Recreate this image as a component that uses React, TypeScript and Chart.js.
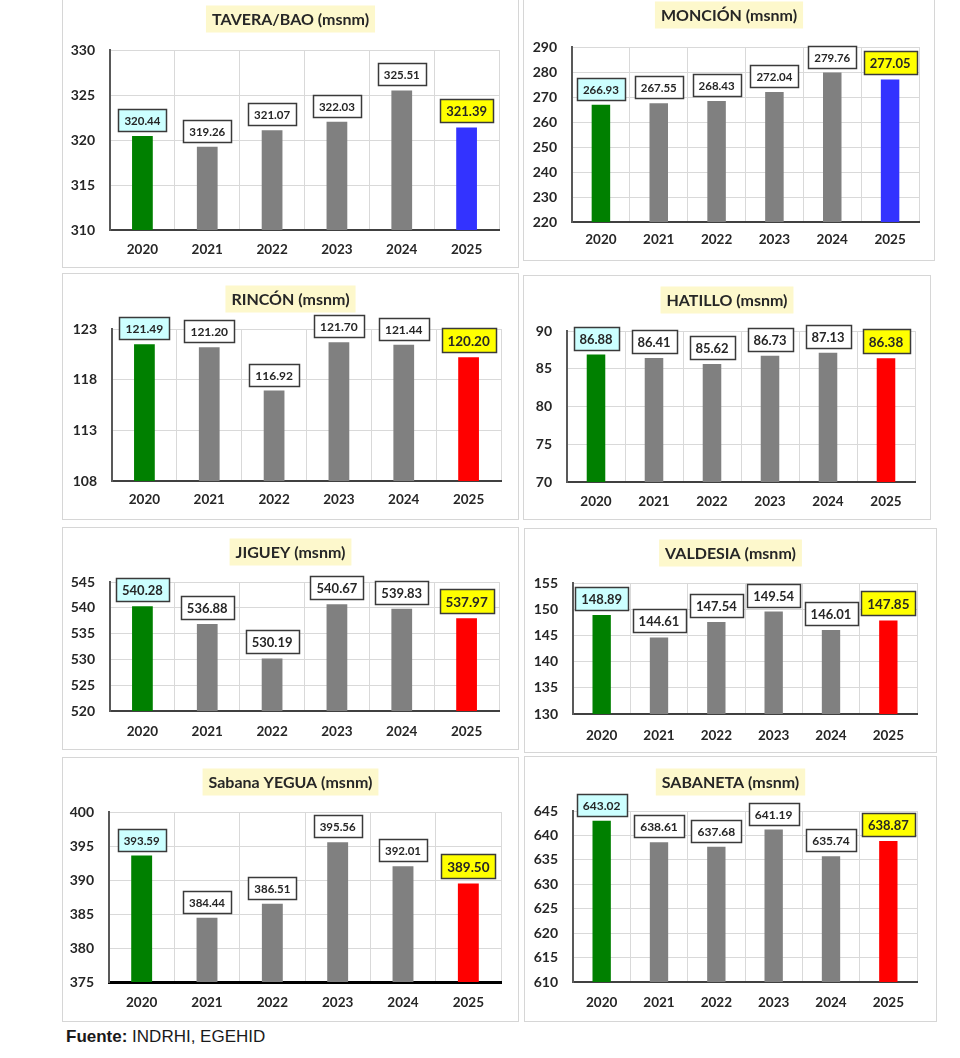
import React, { useEffect, useRef } from "react";
import { Chart, registerables } from "chart.js";

Chart.register(...registerables);

// ---------- DATA ----------
const years = ["2020", "2021", "2022", "2023", "2024", "2025"];

const taveraValues = [320.44, 319.26, 321.07, 322.03, 325.51, 321.39];
const moncionValues = [266.93, 267.55, 268.43, 272.04, 279.76, 277.05];
const rinconValues = [121.49, 121.2, 116.92, 121.7, 121.44, 120.2];
const hatilloValues = [86.88, 86.41, 85.62, 86.73, 87.13, 86.38];
const jigueyValues = [540.28, 536.88, 530.19, 540.67, 539.83, 537.97];
const valdesiaValues = [148.89, 144.61, 147.54, 149.54, 146.01, 147.85];
const sabanaYeguaValues = [393.59, 384.44, 386.51, 395.56, 392.01, 389.5];
const sabanetaValues = [643.02, 638.61, 637.68, 641.19, 635.74, 638.87];

// y-axis ticks: [min, max, step]
const taveraTicks = [310, 330, 5];
const moncionTicks = [220, 290, 10];
const rinconTicks = [108, 123, 5];
const hatilloTicks = [70, 90, 5];
const jigueyTicks = [520, 545, 5];
const valdesiaTicks = [130, 155, 5];
const sabanaYeguaTicks = [375, 400, 5];
const sabanetaTicks = [610, 645, 5];

const titles = [
  "TAVERA/BAO (msnm)",
  "MONCIÓN (msnm)",
  "RINCÓN (msnm)",
  "HATILLO (msnm)",
  "JIGUEY (msnm)",
  "VALDESIA (msnm)",
  "Sabana YEGUA (msnm)",
  "SABANETA (msnm)",
];

const footerBold = "Fuente:";
const footerText = " INDRHI, EGEHID";

// ---------- LAYOUT / STYLE ----------
type Layout = {
  x: number; y: number; w: number; h: number;
  plot: [number, number, number, number]; // left, top, right, bottom (page coords)
  titleY: number;
  lastColor: string;
  labelSize: number;
  lastSize: number;
  xPad: number;
  axisColor?: string;
  axisWidth?: number;
};

const layouts: Layout[] = [
  { x: 62, y: -1, w: 457, h: 269, plot: [110, 50, 499, 230], titleY: 19, lastColor: "#3333ff", labelSize: 11.5, lastSize: 13, xPad: 12 },
  { x: 523, y: -1, w: 412, h: 262, plot: [572, 47, 919, 222], titleY: 15, lastColor: "#3333ff", labelSize: 11.5, lastSize: 13, xPad: 10 },
  { x: 62, y: 273, w: 457, h: 247, plot: [112, 329, 501, 481], titleY: 299, lastColor: "#ff0000", labelSize: 12, lastSize: 13.5, xPad: 11 },
  { x: 523, y: 275, w: 408, h: 245, plot: [567, 331, 915, 482], titleY: 300, lastColor: "#ff0000", labelSize: 13, lastSize: 13.5, xPad: 12 },
  { x: 62, y: 527, w: 457, h: 223, plot: [110, 582, 499, 711], titleY: 552, lastColor: "#ff0000", labelSize: 13, lastSize: 13.5, xPad: 13 },
  { x: 524, y: 528, w: 413, h: 225, plot: [573, 583, 917, 714], titleY: 553, lastColor: "#ff0000", labelSize: 13, lastSize: 13.5, xPad: 14 },
  { x: 62, y: 757, w: 457, h: 265, plot: [109, 812, 501, 982], titleY: 782, lastColor: "#ff0000", labelSize: 11.5, lastSize: 13.5, xPad: 13, axisColor: "#000000", axisWidth: 3 },
  { x: 524, y: 756, w: 413, h: 266, plot: [573, 811, 917, 982], titleY: 782, lastColor: "#ff0000", labelSize: 12, lastSize: 13, xPad: 13 },
];

const seriesList = [
  taveraValues, moncionValues, rinconValues, hatilloValues,
  jigueyValues, valdesiaValues, sabanaYeguaValues, sabanetaValues,
];
const tickList = [
  taveraTicks, moncionTicks, rinconTicks, hatilloTicks,
  jigueyTicks, valdesiaTicks, sabanaYeguaTicks, sabanetaTicks,
];

const FONT = "Lato, 'Open Sans', sans-serif";
const TEXT = "#262626";

const valueBoxes = {
  id: "valueBoxes",
  afterDatasetsDraw(chart: any, _args: any, opts: any) {
    const ctx = chart.ctx;
    const meta = chart.getDatasetMeta(0);
    const data = chart.data.datasets[0].data as number[];
    const n = data.length;
    ctx.save();
    meta.data.forEach((bar: any, i: number) => {
      const txt = data[i].toFixed(2);
      const size = i === n - 1 ? opts.lastSize : opts.labelSize;
      ctx.font = `bold ${size}px ${FONT}`;
      const tw = ctx.measureText(txt).width;
      const bw = Math.round(tw + 12);
      const bh = Math.round(size + 10);
      const cx = bar.x;
      const bottom = bar.y - 5;
      const left = Math.round(cx - bw / 2) + 0.5;
      const top = Math.round(bottom - bh) + 0.5;
      ctx.fillStyle = i === 0 ? "#ccffff" : i === n - 1 ? "#ffff00" : "#ffffff";
      ctx.fillRect(left, top, bw, bh);
      ctx.strokeStyle = "#3a3a3a";
      ctx.lineWidth = 1.5;
      ctx.strokeRect(left, top, bw, bh);
      ctx.fillStyle = TEXT;
      ctx.textAlign = "center";
      ctx.textBaseline = "middle";
      ctx.fillText(txt, cx, top + bh / 2 + 1);
    });
    ctx.restore();
  },
};

const titleBox = {
  id: "titleBox",
  afterDraw(chart: any, _args: any, opts: any) {
    const ctx = chart.ctx;
    ctx.save();
    ctx.font = `bold 16px ${FONT}`;
    const tw = ctx.measureText(opts.text).width;
    const cx = chart.width / 2;
    const cy = opts.cy;
    const bw = tw + 12;
    const bh = 27;
    ctx.fillStyle = "#fdf8cc";
    ctx.fillRect(cx - bw / 2, cy - bh / 2, bw, bh);
    ctx.fillStyle = TEXT;
    ctx.textAlign = "center";
    ctx.textBaseline = "middle";
    ctx.fillText(opts.text, cx, cy + 1);
    ctx.restore();
  },
};

function ChartPanel({ idx }: { idx: number }) {
  const ref = useRef<HTMLCanvasElement | null>(null);
  const L = layouts[idx];
  useEffect(() => {
    if (!ref.current) return;
    const values = seriesList[idx];
    const [mn, mx, st] = tickList[idx];
    const colors = values.map((_, i) =>
      i === 0 ? "#008000" : i === values.length - 1 ? L.lastColor : "#808080"
    );
    const chart = new Chart(ref.current, {
      type: "bar",
      data: {
        labels: years,
        datasets: [
          {
            data: values,
            backgroundColor: colors,
            barPercentage: 0.32,
            categoryPercentage: 1,
          },
        ],
      },
      plugins: [valueBoxes as any, titleBox as any],
      options: {
        responsive: false,
        animation: false,
        events: [],
        layout: {
          padding: {
            left: 0,
            bottom: 0,
            top: L.plot[1] - L.y,
            right: L.x + L.w - L.plot[2],
          },
        },
        plugins: {
          legend: { display: false },
          tooltip: { enabled: false },
          valueBoxes: { labelSize: L.labelSize, lastSize: L.lastSize },
          titleBox: { text: titles[idx], cy: L.titleY - L.y },
        } as any,
        scales: {
          x: {
            grid: { color: "#d9d9d9", drawTicks: false, offset: true },
            border: { color: L.axisColor || "#404040", width: L.axisWidth || 2 },
            ticks: { color: TEXT, font: { family: FONT, size: 13.5, weight: "bold" }, padding: L.xPad },
            afterFit: (s: any) => {
              s.height = L.y + L.h - L.plot[3];
            },
          },
          y: {
            min: mn,
            max: mx,
            grid: { color: "#d9d9d9", drawTicks: false },
            border: { color: "#595959", width: 2 },
            ticks: {
              stepSize: st,
              color: TEXT,
              font: { family: FONT, size: 14, weight: "bold" },
              padding: 15,
              callback: (v: any) => String(v),
            },
            afterFit: (s: any) => {
              s.width = L.plot[0] - L.x;
            },
          },
        },
      } as any,
    });
    return () => chart.destroy();
  }, [idx]);

  return (
    <>
      <div
        style={{
          position: "absolute",
          left: L.x,
          top: L.y,
          width: L.w,
          height: L.h,
          boxSizing: "border-box",
          border: "1px solid #d6d6d6",
          background: "#ffffff",
        }}
      />
      <canvas
        ref={ref}
        width={L.w}
        height={L.h}
        style={{ position: "absolute", left: L.x, top: L.y, width: L.w, height: L.h }}
      />
    </>
  );
}

export default function App() {
  return (
    <div
      style={{
        position: "absolute",
        left: 0,
        top: 0,
        width: 960,
        height: 1058,
        background: "#ffffff",
        overflow: "hidden",
      }}
    >
      {layouts.map((_, i) => (
        <ChartPanel key={i} idx={i} />
      ))}
      <div
        style={{
          position: "absolute",
          left: 66,
          top: 1027,
          fontFamily: "'Liberation Sans', Arial, sans-serif",
          fontSize: 17,
          color: "#1a1a1a",
          whiteSpace: "nowrap",
        }}
      >
        <b>{footerBold}</b>
        {footerText}
      </div>
    </div>
  );
}
